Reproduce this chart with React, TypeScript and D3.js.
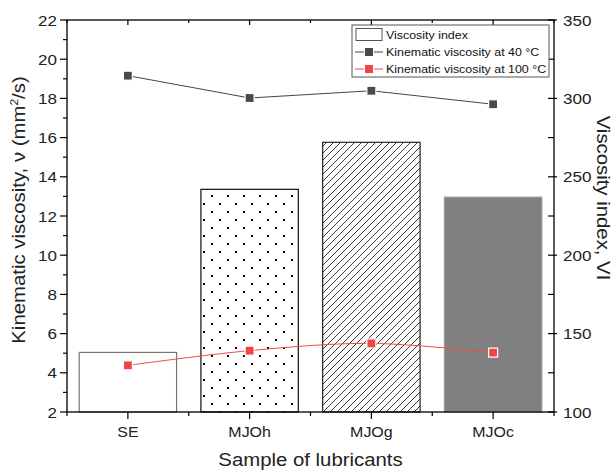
import React, { useEffect, useRef } from 'react';
import * as d3 from 'd3';

const samples = ['SE', 'MJOh', 'MJOg', 'MJOc'];
const viscosityIndex = [138, 242, 272, 237];
const kv40 = [19.16, 18.02, 18.39, 17.7];
const kv100 = [4.38, 5.13, 5.5, 5.03];
const leftTicks = [2, 4, 6, 8, 10, 12, 14, 16, 18, 20, 22];
const rightTicks = [100, 150, 200, 250, 300, 350];

const App = () => {
  const svgRef = useRef<SVGSVGElement>(null);

  useEffect(() => {
    const svg = d3.select(svgRef.current);
    svg.selectAll('*').remove();

    const width = 616;
    const height = 471;
    const left = 67, right = 554, top = 20, bottom = 412;
    const font = 'Arial, "Liberation Sans", sans-serif';
    const sx = 1.1; // the original text runs a bit wider than Arial

    svg.attr('width', width).attr('height', height);

    const x = d3.scaleBand().domain(samples).range([left, right]).paddingInner(0.2).paddingOuter(0.1);
    const yL = d3.scaleLinear().domain([2, 22]).range([bottom, top]);
    const yR = d3.scaleLinear().domain([100, 350]).range([bottom, top]);

    // patterns for the bars
    const defs = svg.append('defs');
    const dots = defs.append('pattern')
      .attr('id', 'dots').attr('patternUnits', 'userSpaceOnUse')
      .attr('width', 16).attr('height', 16);
    dots.append('rect').attr('width', 16).attr('height', 16).attr('fill', '#fff');
    dots.append('rect').attr('x', 3).attr('y', 3).attr('width', 2).attr('height', 2).attr('fill', '#000');
    dots.append('rect').attr('x', 11).attr('y', 11).attr('width', 2).attr('height', 2).attr('fill', '#000');

    const hatch = defs.append('pattern')
      .attr('id', 'hatch').attr('patternUnits', 'userSpaceOnUse')
      .attr('width', 7).attr('height', 7);
    hatch.append('rect').attr('width', 7).attr('height', 7).attr('fill', '#fff');
    hatch.append('path').attr('d', 'M-1,8 L8,-1 M-1,1 L1,-1 M6,8 L8,6')
      .attr('stroke', '#222').attr('stroke-width', 0.9);

    const fills = ['#fff', 'url(#dots)', 'url(#hatch)', '#808080'];
    const strokes = ['#777', '#111', '#222', '#999'];

    svg.append('g').selectAll('rect')
      .data(samples)
      .join('rect')
      .attr('x', d => x(d)!)
      .attr('width', x.bandwidth())
      .attr('y', (d, i) => yR(viscosityIndex[i]))
      .attr('height', (d, i) => bottom - yR(viscosityIndex[i]))
      .attr('fill', (d, i) => fills[i])
      .attr('stroke', (d, i) => strokes[i])
      .attr('stroke-width', 1.2);

    const cx = (d: string) => x(d)! + x.bandwidth() / 2;

    // lines
    const line40 = d3.line<number>().x((d, i) => cx(samples[i])).y(d => yL(d));
    const line100 = d3.line<number>().x((d, i) => cx(samples[i])).y(d => yL(d)).curve(d3.curveCatmullRom);

    svg.append('path').attr('d', line40(kv40)).attr('fill', 'none').attr('stroke', '#444').attr('stroke-width', 1);
    svg.append('path').attr('d', line100(kv100)).attr('fill', 'none').attr('stroke', '#f04848').attr('stroke-width', 1);

    const drawMarkers = (vals: number[], color: string) => {
      svg.append('g').selectAll('rect')
        .data(vals)
        .join('rect')
        .attr('x', (d, i) => cx(samples[i]) - 4.5)
        .attr('y', d => yL(d) - 4.5)
        .attr('width', 9).attr('height', 9)
        .attr('fill', color)
        .attr('stroke', '#fff').attr('stroke-width', 1.2);
    };
    drawMarkers(kv40, '#4a4a4a');
    drawMarkers(kv100, '#f04545');

    // frame
    svg.append('rect').attr('x', left).attr('y', top).attr('width', right - left).attr('height', bottom - top)
      .attr('fill', 'none').attr('stroke', '#000').attr('stroke-width', 1.3);

    const axis = svg.append('g').attr('stroke', '#000').attr('stroke-width', 1.2);

    // left ticks (outward)
    d3.range(2, 23, 1).forEach(v => {
      const major = v % 2 === 0;
      axis.append('line').attr('x1', left).attr('x2', left - (major ? 7 : 4)).attr('y1', yL(v)).attr('y2', yL(v));
    });
    // right ticks
    d3.range(100, 351, 25).forEach(v => {
      const major = v % 50 === 0;
      axis.append('line').attr('x1', right - 6).attr('x2', right + (major ? 3 : 0)).attr('y1', yR(v)).attr('y2', yR(v));
    });
    // bottom / top ticks
    samples.forEach(s => {
      axis.append('line').attr('x1', cx(s)).attr('x2', cx(s)).attr('y1', bottom).attr('y2', bottom + 7);
      axis.append('line').attr('x1', cx(s)).attr('x2', cx(s)).attr('y1', top).attr('y2', top + 5);
    });
    d3.range(0, samples.length + 1).forEach(i => {
      const bx = left + i * x.step();
      axis.append('line').attr('x1', bx).attr('x2', bx).attr('y1', bottom).attr('y2', bottom + 4);
      axis.append('line').attr('x1', bx).attr('x2', bx).attr('y1', top).attr('y2', top + 3);
    });

    const txt = svg.append('g').attr('font-family', font).attr('fill', '#222');

    txt.selectAll('.lt').data(leftTicks).join('text')
      .attr('transform', d => `translate(${left - 10},${yL(d)}) scale(${sx},1)`)
      .attr('dy', '0.36em')
      .attr('text-anchor', 'end').attr('font-size', 15.5).text(d => d);

    txt.selectAll('.rt').data(rightTicks).join('text')
      .attr('transform', d => `translate(${right + 9},${yR(d)}) scale(${sx},1)`)
      .attr('dy', '0.36em')
      .attr('font-size', 15.5).text(d => d);

    txt.selectAll('.bt').data(samples).join('text')
      .attr('transform', d => `translate(${cx(d)},${bottom + 25}) scale(${sx},1)`)
      .attr('text-anchor', 'middle').attr('font-size', 14.5).text(d => d);

    txt.append('text')
      .attr('transform', `translate(${(left + right) / 2},466) scale(${sx},1)`)
      .attr('text-anchor', 'middle').attr('font-size', 18.5).text('Sample of lubricants');

    const yt = txt.append('text')
      .attr('transform', `translate(25,210) rotate(-90) scale(${sx},1)`)
      .attr('text-anchor', 'middle').attr('font-size', 18.5);
    yt.append('tspan').text('Kinematic viscosity, \u03BD (mm');
    yt.append('tspan').attr('font-size', 11).attr('dy', -7).text('2');
    yt.append('tspan').attr('dy', 7).text('/s)');

    txt.append('text')
      .attr('transform', `translate(597,198) rotate(90) scale(${sx},1)`)
      .attr('text-anchor', 'middle').attr('font-size', 18.5).text('Viscosity index, VI');

    // legend
    const lg = svg.append('g').attr('font-family', font).attr('font-size', 11.3).attr('fill', '#111');
    lg.append('rect').attr('x', 352).attr('y', 25).attr('width', 197).attr('height', 52)
      .attr('fill', '#fff').attr('stroke', '#555').attr('stroke-width', 1);
    lg.append('rect').attr('x', 356).attr('y', 28.5).attr('width', 26).attr('height', 12)
      .attr('fill', '#fff').attr('stroke', '#555').attr('stroke-width', 1);
    lg.append('text').attr('transform', `translate(386,38.5) scale(${sx},1)`).text('Viscosity index');

    const legendLine = (yy: number, lc: string, mc: string, label: string) => {
      lg.append('line').attr('x1', 355).attr('x2', 364).attr('y1', yy).attr('y2', yy).attr('stroke', lc);
      lg.append('line').attr('x1', 374).attr('x2', 383).attr('y1', yy).attr('y2', yy).attr('stroke', lc);
      lg.append('rect').attr('x', 365).attr('y', yy - 4).attr('width', 8).attr('height', 8).attr('fill', mc);
      lg.append('text').attr('transform', `translate(386,${yy + 4}) scale(${sx},1)`).text(label);
    };
    legendLine(52, '#444', '#4a4a4a', 'Kinematic viscosity at 40 \u00B0C');
    legendLine(69, '#f04848', '#f04545', 'Kinematic viscosity at 100 \u00B0C');
  }, []);

  return <svg ref={svgRef} style={{ position: 'absolute', left: 0, top: 0 }} />;
};

export default App;
